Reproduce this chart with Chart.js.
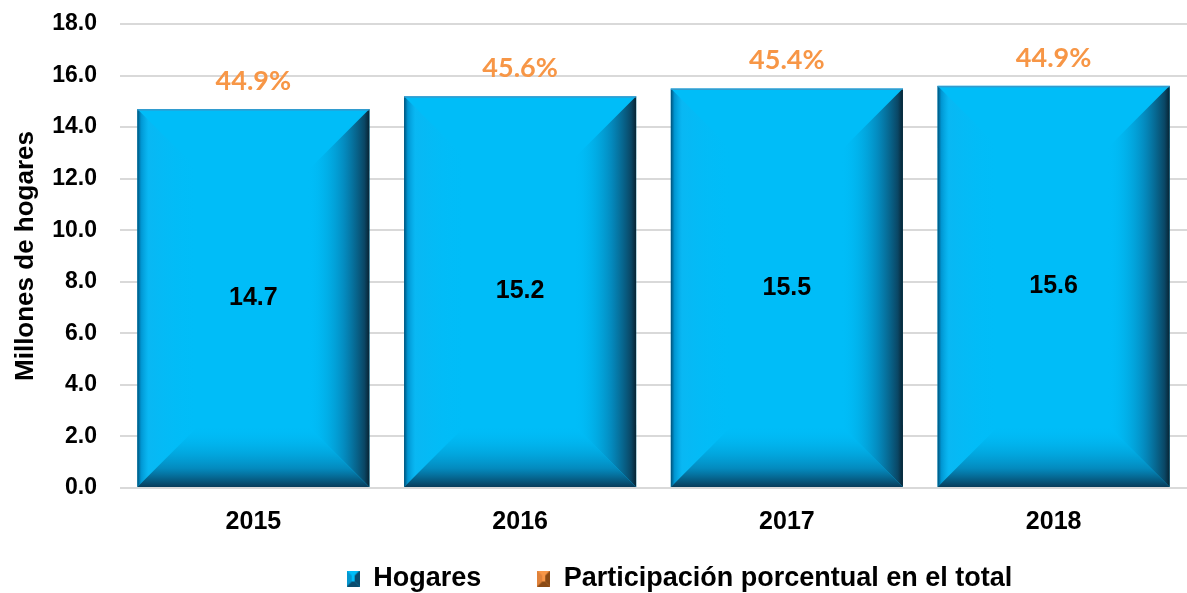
<!DOCTYPE html>
<html>
<head>
<meta charset="utf-8">
<script src="https://cdn.jsdelivr.net/npm/chart.js@4.4.1/dist/chart.umd.min.js"></script>
<style>
  html, body { margin: 0; padding: 0; background: #fff; }
  #wrap { width: 1187px; height: 593px; }
</style>
</head>
<body>
<div id="wrap"><canvas id="hogaresChart"></canvas></div>
<script>
// data
const years = ['2015', '2016', '2017', '2018'];
const hogares = [14.7, 15.2, 15.5, 15.6];
const participacion = [44.9, 45.6, 45.4, 44.9];
const yTicks = [0, 2, 4, 6, 8, 10, 12, 14, 16, 18];

const BLUE = '#00BDF8';
const ORANGE = '#F79646';

// small beveled square used as legend marker
function bevelSwatch(base, dark, light) {
    const c = document.createElement('canvas');
    c.width = 13; c.height = 16;
    const g = c.getContext('2d');
    g.fillStyle = base; g.fillRect(0, 0, 13, 16);
    g.fillStyle = light;
    g.beginPath(); g.moveTo(0, 0); g.lineTo(5, 5); g.lineTo(5, 11); g.lineTo(0, 16); g.fill();
    g.fillStyle = dark;
    g.beginPath(); g.moveTo(13, 0); g.lineTo(8, 5); g.lineTo(8, 11); g.lineTo(13, 16); g.fill();
    g.beginPath(); g.moveTo(0, 16); g.lineTo(5, 11); g.lineTo(8, 11); g.lineTo(13, 16); g.fill();
    return c;
}
const blueSwatch = bevelSwatch(BLUE, '#0a4c6e', '#0597cf');
const orangeSwatch = bevelSwatch(ORANGE, '#8a4a14', '#e0823a');

// bevel look on each bar + labels
const bevelPlugin = {
    id: 'bevel',
    afterLayout(chart) {
        // legend in the reference sits a bit right of centre and close under the axis labels
        const lg = chart.legend;
        lg.left += 26;
        lg.right += 26;
        lg.top -= 47;
        lg.bottom -= 47;
    },
    afterDatasetsDraw(chart) {
        const ctx = chart.ctx;
        const meta = chart.getDatasetMeta(0);
        const yScale = chart.scales.y;
        meta.data.forEach((bar, i) => {
            const L = bar.x - bar.width / 2, R = bar.x + bar.width / 2;
            const T = bar.y, B = bar.base;
            const b = 62;
            ctx.save();
            // left
            let g = ctx.createLinearGradient(L, 0, L + b, 0);
            g.addColorStop(0, 'rgba(0,80,120,1)');
            g.addColorStop(0.06, 'rgba(0,145,205,0.9)');
            g.addColorStop(0.18, 'rgba(15,180,240,0.6)');
            g.addColorStop(1, 'rgba(0,189,248,0)');
            ctx.fillStyle = g;
            ctx.beginPath(); ctx.moveTo(L, T); ctx.lineTo(L + b, T + b); ctx.lineTo(L + b, B - b); ctx.lineTo(L, B); ctx.closePath(); ctx.fill();
            // right
            g = ctx.createLinearGradient(R - b, 0, R, 0);
            g.addColorStop(0, 'rgba(0,189,248,0)');
            g.addColorStop(0.6, 'rgba(5,125,175,0.8)');
            g.addColorStop(0.92, 'rgba(10,70,100,1)');
            g.addColorStop(1, 'rgba(8,35,50,1)');
            ctx.fillStyle = g;
            ctx.beginPath(); ctx.moveTo(R, T); ctx.lineTo(R - b, T + b); ctx.lineTo(R - b, B - b); ctx.lineTo(R, B); ctx.closePath(); ctx.fill();
            // bottom
            g = ctx.createLinearGradient(0, B - b, 0, B);
            g.addColorStop(0, 'rgba(0,189,248,0)');
            g.addColorStop(0.7, 'rgba(5,125,175,0.8)');
            g.addColorStop(1, 'rgba(8,60,90,1)');
            ctx.fillStyle = g;
            ctx.beginPath(); ctx.moveTo(L, B); ctx.lineTo(L + b, B - b); ctx.lineTo(R - b, B - b); ctx.lineTo(R, B); ctx.closePath(); ctx.fill();
            // top edge line
            ctx.fillStyle = 'rgba(60,150,200,0.9)';
            ctx.fillRect(L, T, R - L, 1.5);
            ctx.restore();

            // value label in the middle of the bar
            ctx.save();
            ctx.font = 'bold 25px Arial';
            ctx.fillStyle = '#000';
            ctx.textAlign = 'center';
            ctx.textBaseline = 'middle';
            ctx.fillText(hogares[i].toFixed(1), bar.x, (T + B) / 2);
            // percentage above the bar
            ctx.font = 'bold 27px Lato';
            ctx.fillStyle = ORANGE;
            ctx.fillText(participacion[i].toFixed(1) + '%', bar.x, yScale.getPixelForValue(hogares[i]) - 28);
            ctx.restore();
        });
    }
};

new Chart(document.getElementById('hogaresChart'), {
    type: 'bar',
    data: {
        labels: years,
        datasets: [
            {
                label: 'Hogares',
                data: hogares,
                backgroundColor: BLUE,
                borderWidth: 0,
                categoryPercentage: 1,
                barPercentage: 0.87,
                yAxisID: 'y'
            },
            {
                type: 'line',
                label: 'Participación porcentual en el total',
                data: participacion,
                showLine: false,
                pointRadius: 0,
                borderColor: ORANGE,
                backgroundColor: ORANGE,
                yAxisID: 'y1'
            }
        ]
    },
    options: {
        responsive: true,
        maintainAspectRatio: false,
        animation: false,
        layout: { padding: { top: 24, right: 0, left: 0, bottom: -56 } },
        plugins: {
            tooltip: { enabled: false },
            legend: {
                position: 'bottom',
                fullSize: false,
                labels: {
                    color: '#000',
                    font: { family: 'Arial', size: 27, weight: 'bold' },
                    usePointStyle: true,
                    pointStyleWidth: 13,
                    boxHeight: 16,
                    padding: 56,
                    generateLabels(chart) {
                        return chart.data.datasets.map((ds, i) => ({
                            text: ds.label,
                            pointStyle: i === 0 ? blueSwatch : orangeSwatch,
                            fillStyle: i === 0 ? BLUE : ORANGE,
                            strokeStyle: 'transparent',
                            lineWidth: 0,
                            hidden: false,
                            datasetIndex: i
                        }));
                    }
                }
            }
        },
        scales: {
            x: {
                grid: { display: false, drawTicks: false },
                border: { display: false },
                ticks: { color: '#000', font: { family: 'Arial', size: 25, weight: 'bold' }, padding: 19 }
            },
            y: {
                min: 0,
                max: 18,
                afterBuildTicks(axis) { axis.ticks = yTicks.map(v => ({ value: v })); },
                afterFit(axis) { axis.width = 120; },
                grid: { color: '#d9d9d9', lineWidth: 2, drawTicks: true, tickLength: 21, tickColor: 'rgba(0,0,0,0)' },
                border: { display: false },
                ticks: {
                    color: '#000',
                    font: { family: 'Arial', size: 23, weight: 'bold' },
                    padding: 2,
                    callback: v => Number(v).toFixed(1)
                },
                title: {
                    display: true,
                    text: 'Millones de hogares',
                    color: '#000',
                    font: { family: 'Arial', size: 26, weight: 'bold' },
                    padding: { top: 10, bottom: 0 }
                }
            },
            y1: {
                display: false,
                min: 0,
                max: 60
            }
        }
    },
    plugins: [bevelPlugin]
});
</script>
</body>
</html>
